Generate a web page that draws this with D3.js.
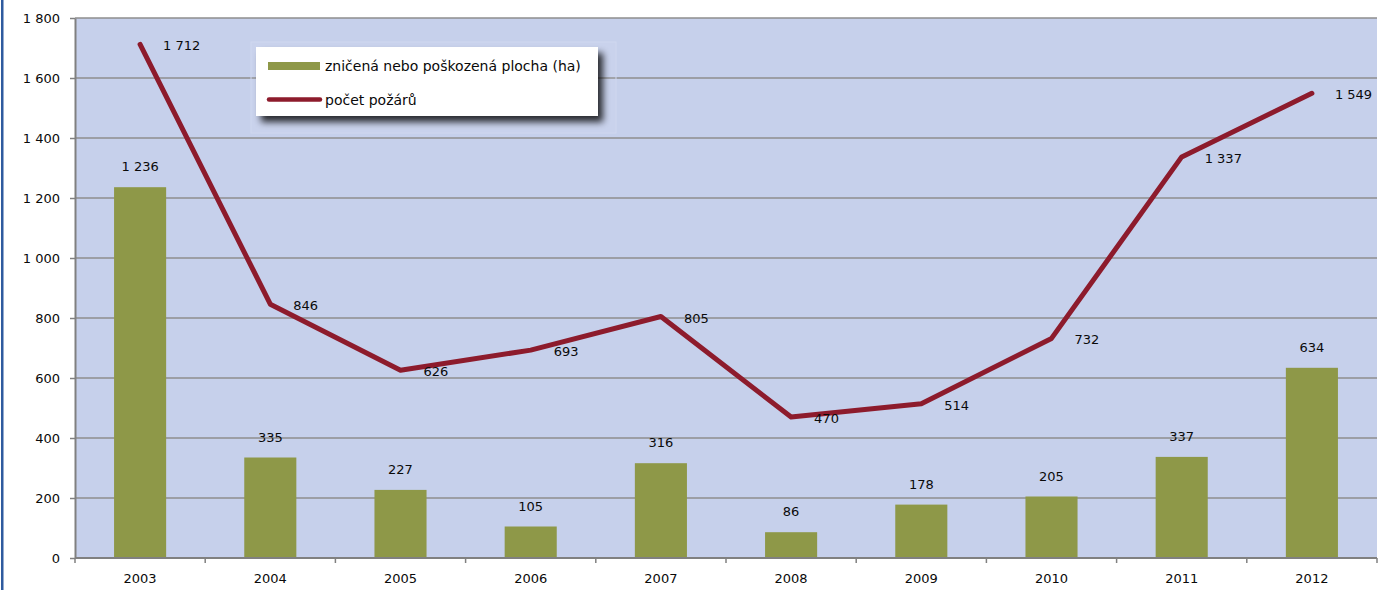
<!DOCTYPE html>
<html>
<head>
<meta charset="utf-8">
<script src="https://cdn.jsdelivr.net/npm/d3@7"></script>
<style>
  html, body { margin: 0; padding: 0; background: #ffffff; }
  svg { display: block; font-family: "DejaVu Sans", Verdana, sans-serif; }
</style>
</head>
<body>
<svg id="chart" width="1381" height="590"></svg>
<script>
// Lesní požáry v ČR 2003–2012
const years = ["2003", "2004", "2005", "2006", "2007", "2008", "2009", "2010", "2011", "2012"];
const area = [1236, 335, 227, 105, 316, 86, 178, 205, 337, 634];     // zničená nebo poškozená plocha (ha)
const fires = [1712, 846, 626, 693, 805, 470, 514, 732, 1337, 1549]; // počet požárů
const yTicks = [0, 200, 400, 600, 800, 1000, 1200, 1400, 1600, 1800];
const legendLabels = ["zničená nebo poškozená plocha (ha)", "počet požárů"];

const fmt = v => {
  const s = String(v);
  return s.length > 3 ? s.slice(0, s.length - 3) + " " + s.slice(-3) : s;
};

const svg = d3.select("#chart");
const plot = { left: 75, right: 1377, top: 18, bottom: 558 };
const textColor = "#0a0a0a";

const x = d3.scaleBand().domain(years).range([plot.left, plot.right]).paddingInner(0).paddingOuter(0);
const y = d3.scaleLinear().domain([0, 1800]).range([plot.bottom, plot.top]);

const defs = svg.append("defs");
const shadow = defs.append("filter").attr("id", "legendShadow")
  .attr("x", "-10%").attr("y", "-20%").attr("width", "130%").attr("height", "160%");
shadow.append("feGaussianBlur").attr("in", "SourceAlpha").attr("stdDeviation", 3.5).attr("result", "blur");
shadow.append("feOffset").attr("in", "blur").attr("dx", 5).attr("dy", 6).attr("result", "off");
shadow.append("feComponentTransfer").attr("in", "off").attr("result", "shade")
  .append("feFuncA").attr("type", "linear").attr("slope", 0.8);
const merge = shadow.append("feMerge");
merge.append("feMergeNode").attr("in", "shade");
merge.append("feMergeNode").attr("in", "SourceGraphic");

// outer frame edge on the left
svg.append("rect").attr("x", 1).attr("y", 0).attr("width", 2.5).attr("height", 590).attr("fill", "#2f5b9f");

// plot background
svg.append("rect")
  .attr("x", plot.left).attr("y", plot.top)
  .attr("width", plot.right - plot.left).attr("height", plot.bottom - plot.top)
  .attr("fill", "#c6d0eb");

// horizontal gridlines
svg.append("g").selectAll("line").data(yTicks.filter(t => t > 0)).join("line")
  .attr("x1", plot.left).attr("x2", plot.right)
  .attr("y1", d => y(d)).attr("y2", d => y(d))
  .attr("stroke", "#8e8e8e").attr("stroke-width", 1.3);

// y axis
const yAxis = svg.append("g")
  .attr("transform", `translate(${plot.left},0)`)
  .call(d3.axisLeft(y).tickValues(yTicks).tickFormat(fmt).tickSize(5).tickSizeOuter(0).tickPadding(10));
yAxis.select(".domain").attr("stroke", "#808080").attr("stroke-width", 2);
yAxis.selectAll(".tick line").attr("stroke", "#808080").attr("stroke-width", 1.5);
yAxis.selectAll(".tick text").attr("font-size", 13).attr("fill", textColor)
  .attr("font-family", "'DejaVu Sans', Verdana, sans-serif");

// bars
svg.append("g").selectAll("rect").data(years).join("rect")
  .attr("x", d => x(d) + x.bandwidth() * 0.3)
  .attr("width", x.bandwidth() * 0.4)
  .attr("y", (d, i) => y(area[i]))
  .attr("height", (d, i) => y(0) - y(area[i]))
  .attr("fill", "#8e9848");

// x axis with ticks at category boundaries
const xAxisG = svg.append("g").attr("transform", `translate(0,${plot.bottom})`);
xAxisG.append("line").attr("x1", plot.left).attr("x2", plot.right)
  .attr("stroke", "#808080").attr("stroke-width", 2.2);
const bounds = years.map(d => x(d)).concat([x(years[years.length - 1]) + x.bandwidth()]);
xAxisG.selectAll("line.tick").data(bounds).join("line").attr("class", "tick")
  .attr("x1", d => d).attr("x2", d => d).attr("y1", 0).attr("y2", 5)
  .attr("stroke", "#808080").attr("stroke-width", 1.5);
xAxisG.selectAll("text").data(years).join("text")
  .attr("x", d => x(d) + x.bandwidth() / 2).attr("y", 25)
  .attr("text-anchor", "middle").attr("font-size", 13).attr("fill", textColor)
  .text(d => d);

// bar value labels
svg.append("g").selectAll("text").data(years).join("text")
  .attr("x", d => x(d) + x.bandwidth() / 2)
  .attr("y", (d, i) => y(area[i]) - 16)
  .attr("text-anchor", "middle").attr("font-size", 13).attr("fill", textColor)
  .text((d, i) => fmt(area[i]));

// fires line
const line = d3.line()
  .x((d, i) => x(years[i]) + x.bandwidth() / 2)
  .y(d => y(d));
svg.append("path").datum(fires)
  .attr("d", line)
  .attr("fill", "none").attr("stroke", "#8d1b2c").attr("stroke-width", 5)
  .attr("stroke-linejoin", "round").attr("stroke-linecap", "round");

// line value labels
svg.append("g").selectAll("text").data(fires).join("text")
  .attr("x", (d, i) => x(years[i]) + x.bandwidth() / 2 + 23)
  .attr("y", d => y(d) + 6)
  .attr("text-anchor", "start").attr("font-size", 13).attr("fill", textColor)
  .text(d => fmt(d));

// legend
const lg = svg.append("g");
lg.append("rect").attr("x", 251).attr("y", 42).attr("width", 365).attr("height", 91)
  .attr("fill", "#ffffff").attr("fill-opacity", 0.06)
  .attr("stroke", "#cfd7ef").attr("stroke-width", 1);
lg.append("rect").attr("x", 256).attr("y", 47).attr("width", 342).attr("height", 69)
  .attr("fill", "#ffffff").attr("filter", "url(#legendShadow)");
lg.append("rect").attr("x", 268).attr("y", 62).attr("width", 52).attr("height", 8).attr("fill", "#8e9848");
lg.append("line").attr("x1", 269).attr("x2", 320).attr("y1", 99.5).attr("y2", 99.5)
  .attr("stroke", "#8d1b2c").attr("stroke-width", 4.5).attr("stroke-linecap", "round");
lg.selectAll("text").data(legendLabels).join("text")
  .attr("x", 325).attr("y", (d, i) => 71 + i * 33.5)
  .attr("font-size", 14).attr("fill", textColor)
  .text(d => d);
</script>
</body>
</html>
